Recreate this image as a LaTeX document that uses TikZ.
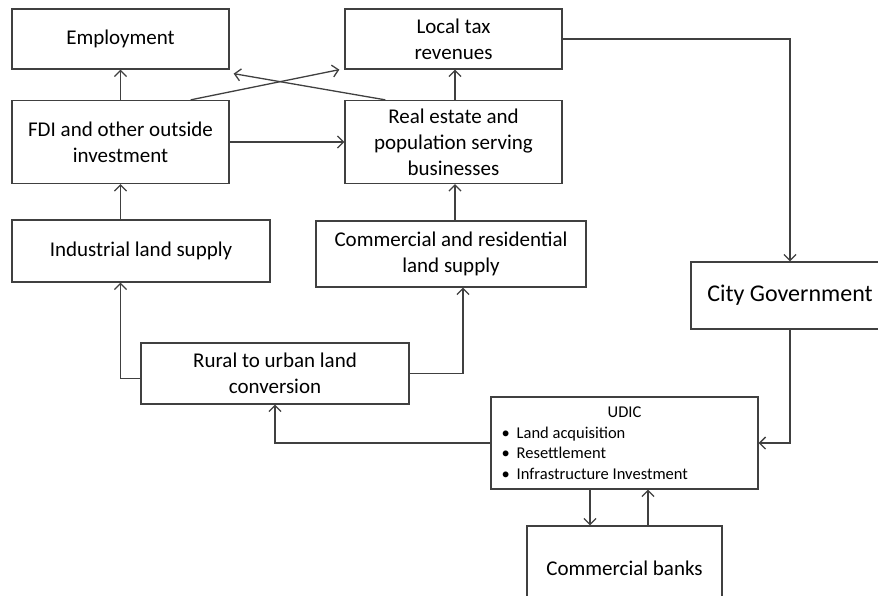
\documentclass[tikz,border=0pt]{standalone}
\usepackage{fontspec}
\setmainfont{Carlito}
\usetikzlibrary{arrows.meta,calc}

\tikzset{every picture/.style={line width=1.3pt}}
\tikzset{
	flowbox/.style={draw={rgb,255:red,64;green,64;blue,64}, align=center, inner sep=2pt, font=\fontsize{21}{26}\selectfont},
	flowarrow/.style={draw={rgb,255:red,64;green,64;blue,64}, -{Straight Barb[length=6pt,width=12pt,line width=1.3pt]}},
	flowline/.style={draw={rgb,255:red,64;green,64;blue,64}}
}
\newcommand{\udicitem}[1]{\makebox[246pt][l]{\textbullet\hspace{7pt}#1}}

\begin{document}
\begin{tikzpicture}[x=1pt,y=-1pt]
			\useasboundingbox (0,0) rectangle (878,596);
			\clip (0,0) rectangle (878,596);
			% boxes
			\node [flowbox, minimum width=217, minimum height=60] (emp) at (120.5,39) {Employment};
			\node [flowbox, minimum width=217, minimum height=83] (fdi) at (120.5,142) {FDI and other outside\\investment};
			\node [flowbox, minimum width=217, minimum height=60] (tax) at (453.5,39) {Local tax\\revenues};
			\node [flowbox, minimum width=217, minimum height=83] (real) at (453.5,142) {Real estate and\\population serving\\businesses};
			\node [flowbox, minimum width=258, minimum height=62] (ind) at (141,251) {Industrial land supply};
			\node [flowbox, minimum width=270, minimum height=66] (comres) at (451,254) {Commercial and residential\\land supply};
			\node [flowbox, minimum width=268, minimum height=61] (rural) at (275,373.5) {Rural to urban land\\conversion};
			\node [flowbox, minimum width=198, minimum height=67, font=\fontsize{24}{28}\selectfont] (city) at (790,295.5) {City Government};
			\node [flowbox, minimum width=267, minimum height=92, font=\fontsize{16.5}{20.5}\selectfont] (udic) at (624.5,443) {UDIC\\
				\udicitem{Land acquisition}\\
				\udicitem{Resettlement}\\
				\udicitem{Infrastructure Investment}};
			\node [flowbox, minimum width=195, minimum height=84] (bank) at (624.5,568) {Commercial banks};
			% connectors
			\draw [flowarrow] (fdi.north) -- (emp.south);
			\draw [flowarrow] ($(fdi.north east)+(-39,0)$) -- ($(tax.south west)+(-5,0)$);
			\draw [flowarrow] ($(real.north west)+(41,0)$) -- ($(emp.south east)+(4,4)$);
			\draw [flowarrow] (fdi.east) -- (real.west);
			\draw [flowarrow] ($(real.north)+(1.5,0)$) -- ($(tax.south)+(1.5,0)$);
			\draw [flowarrow] (fdi.south |- ind.north) -- (fdi.south);
			\draw [flowarrow] ($(real.south |- comres.north)+(1.5,0)$) -- ($(real.south)+(1.5,0)$);
			\draw [flowarrow] ($(rural.west)+(0,5)$) -| (fdi.south |- ind.south);
			\draw [flowarrow] (rural.east) -| ($(comres.south)+(12,0)$);
			\draw [flowarrow] (tax.east) -| (city.north);
			\draw [flowarrow] (city.south) |- (udic.east);
			\draw [flowarrow] (udic.west) -| (rural.south);
			\draw [flowarrow] ($(udic.south)+(-34.5,0)$) -- ($(bank.north)+(-34.5,0)$);
			\draw [flowarrow] ($(bank.north)+(23.5,0)$) -- ($(udic.south)+(23.5,0)$);
		\end{tikzpicture}
\end{document}
